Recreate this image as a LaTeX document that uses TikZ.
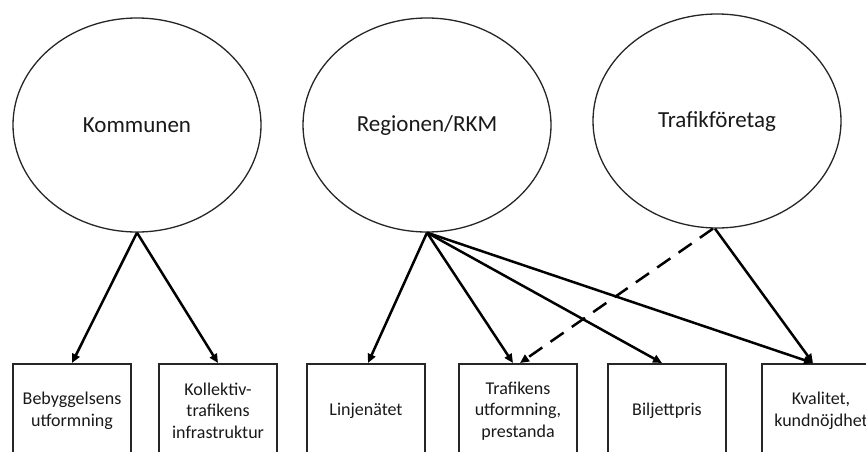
\documentclass[tikz,border=0pt]{standalone}
\usepackage{fontspec}
\setmainfont{Carlito}
\usetikzlibrary{shapes.geometric,arrows.meta,calc}
\begin{document}
\begin{tikzpicture}[x=1pt,y=-1pt,
  ell/.style={draw=black!85,line width=1.3pt,ellipse,minimum width=248pt,minimum height=214pt,inner sep=0pt,font=\fontsize{23}{27}\selectfont,text=black!90},
  box/.style={draw=black!85,line width=1.5pt,rectangle,minimum width=118pt,minimum height=94pt,inner sep=0pt,anchor=north,align=center,font=\fontsize{18}{21.5}\selectfont,text=black!90},
  arr/.style={line width=2.5pt,-{Triangle[length=9pt,width=8pt]}},
  darr/.style={arr,dash pattern=on 16pt off 10pt}]
\useasboundingbox (0,0) rectangle (866,451);
\clip (0,0) rectangle (866,451);
\fill[white] (0,0) rectangle (866,451);
\node[ell] (kom) at (137,125) {Kommunen};
\node[ell] (reg) at (427,125) {Regionen/RKM};
\node[ell] (tra) at (717,121) {Trafikföretag};
\node[box] (b1) at (72,363) {Bebyggelsens\\utformning};
\node[box] (b2) at (218,363) {Kollektiv-\\trafikens\\infrastruktur};
\node[box] (b3) at (366,363) {Linjenätet};
\node[box] (b4) at (518,363) {Trafikens\\utformning,\\prestanda};
\node[box] (b5) at (667,363) {Biljettpris};
\node[box] (b6) at (821,363) {Kvalitet,\\kundnöjdhet};
\draw[arr] (kom.south) -- (b1.north);
\draw[arr] (kom.south) -- (b2.north);
\draw[arr] (reg.south) -- ([xshift=2pt]b3.north);
\draw[arr] (reg.south) -- ([xshift=-5pt]b4.north);
\draw[arr] (reg.south) -- ([xshift=-5pt]b5.north);
\draw[arr] (reg.south) -- ([xshift=-8pt]b6.north);
\draw[arr] ([xshift=-2pt]tra.south) -- ([xshift=-8pt]b6.north);
\draw[darr] ([xshift=-4pt]tra.south) -- ([xshift=2pt]b4.north);
\end{tikzpicture}
\end{document}
